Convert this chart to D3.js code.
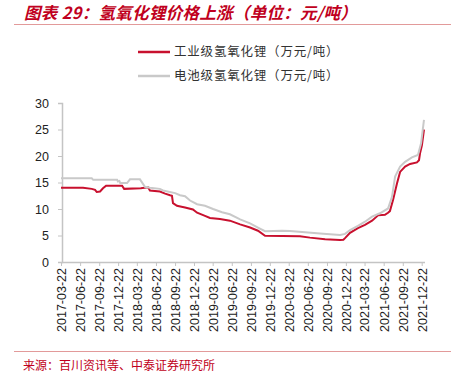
<!DOCTYPE html>
<html>
<head>
<meta charset="utf-8">
<script src="https://cdn.jsdelivr.net/npm/d3@7"></script>
<style>
  body { margin: 0; background: #fff; }
  text { font-family: "Liberation Sans", Arial, "Noto Sans CJK SC", sans-serif; }
  .cn { font-family: "Noto Sans CJK SC", sans-serif; }
</style>
</head>
<body>
<div id="chart"></div>
<script>
var svgWidth = 455;
var svgHeight = 377;

// Data (万元/吨)
var industrialDates = ["2017-03-22", "2017-07-06", "2017-08-17", "2017-09-02", "2017-09-10", "2017-09-26",
  "2017-10-10", "2017-10-25", "2018-01-10", "2018-01-20", "2018-04-10", "2018-05-15", "2018-05-24",
  "2018-07-11", "2018-08-05", "2018-08-29", "2018-09-07", "2018-09-12", "2018-10-01", "2018-11-09",
  "2018-12-17", "2019-01-06", "2019-02-13", "2019-03-09", "2019-04-26", "2019-06-13", "2019-08-01",
  "2019-09-18", "2019-10-26", "2019-11-29", "2020-05-15", "2020-07-02", "2020-09-13", "2020-11-24",
  "2020-12-10", "2020-12-18", "2021-01-11", "2021-02-18", "2021-03-24", "2021-04-27", "2021-05-26",
  "2021-06-28", "2021-07-13", "2021-07-22", "2021-08-06", "2021-08-25", "2021-09-09", "2021-10-03",
  "2021-10-27", "2021-11-29", "2021-12-09", "2021-12-14", "2021-12-23", "2022-01-02"];
var industrialValues = [14.0, 14.0, 13.8, 13.6, 13.2, 13.3,
  13.9, 14.4, 14.4, 13.8, 13.9, 14.1, 13.5,
  13.3, 12.9, 12.6, 12.5, 11.1, 10.6, 10.3,
  9.9, 9.3, 8.7, 8.3, 8.1, 7.8, 7.1,
  6.5, 5.9, 4.95, 4.85, 4.6, 4.3, 4.15,
  4.2, 4.5, 5.5, 6.4, 7.0, 7.8, 8.8,
  8.9, 9.3, 9.6, 11.7, 14.8, 17.0, 18.0,
  18.5, 18.8, 19.2, 20.5, 22.0, 25.0];

var batteryDates = ["2017-03-22", "2017-08-17", "2017-08-24", "2017-12-17", "2017-12-21", "2017-12-28",
  "2018-01-01", "2018-02-03", "2018-02-17", "2018-04-06", "2018-04-30", "2018-05-24", "2018-07-11",
  "2018-07-26", "2018-09-22", "2018-10-16", "2018-11-09", "2018-12-03", "2019-01-06", "2019-02-13",
  "2019-03-24", "2019-05-06", "2019-06-13", "2019-08-01", "2019-09-18", "2019-10-26", "2019-11-29",
  "2020-02-19", "2020-03-28", "2020-08-20", "2020-11-24", "2020-12-18", "2021-01-11", "2021-02-18",
  "2021-03-24", "2021-04-27", "2021-06-04", "2021-07-13", "2021-08-01", "2021-08-16", "2021-09-09",
  "2021-10-03", "2021-11-05", "2021-12-04", "2021-12-19", "2022-01-02"];
var batteryValues = [15.8, 15.8, 15.5, 15.5, 15.2, 15.3,
  14.9, 14.9, 15.6, 15.6, 14.2, 14.0, 13.8,
  13.5, 13.0, 12.6, 12.4, 11.6, 10.9, 10.6,
  10.0, 9.4, 9.0, 8.05, 7.3, 6.5, 5.8,
  5.9, 5.85, 5.4, 5.1, 5.3, 6.0, 6.8,
  7.6, 8.55, 9.2, 10.1, 12.3, 16.1, 18.0,
  18.9, 19.75, 20.2, 22.4, 26.8];

var tickDates = ["2017-03-22", "2017-06-22", "2017-09-22", "2017-12-22", "2018-03-22", "2018-06-22",
  "2018-09-22", "2018-12-22", "2019-03-22", "2019-06-22", "2019-09-22", "2019-12-22", "2020-03-22",
  "2020-06-22", "2020-09-22", "2020-12-22", "2021-03-22", "2021-06-22", "2021-09-22", "2021-12-22"];
var yTicks = [0, 5, 10, 15, 20, 25, 30];
var seriesNames = ["工业级氢氧化锂（万元/吨）", "电池级氢氧化锂（万元/吨）"];
var seriesColors = ["#c8102e", "#c9c9c9"];

var parseDate = d3.timeParse("%Y-%m-%d");

var svg = d3.select("#chart")
  .append("svg")
  .attr("width", svgWidth)
  .attr("height", svgHeight);

// Title and rules
svg.append("text")
  .attr("class", "cn")
  .attr("x", 24)
  .attr("y", 19)
  .style("font-size", "16.5px")
  .style("font-weight", "bold")
  .style("font-style", "italic")
  .style("letter-spacing", "0.3px")
  .style("fill", "#c00020")
  .text("图表 29：氢氧化锂价格上涨（单位：元/吨）");

svg.append("line")
  .attr("x1", 14).attr("x2", 451)
  .attr("y1", 24.5).attr("y2", 24.5)
  .attr("stroke", "#e29a9a").attr("stroke-width", 1);

svg.append("line")
  .attr("x1", 14).attr("x2", 451)
  .attr("y1", 351.5).attr("y2", 351.5)
  .attr("stroke", "#e29a9a").attr("stroke-width", 1);

svg.append("text")
  .attr("class", "cn")
  .attr("x", 23)
  .attr("y", 370)
  .style("font-size", "12px")
  .style("fill", "#c00020")
  .text("来源：百川资讯等、中泰证券研究所");

// Scales
var x = d3.scaleTime()
  .domain([parseDate("2017-03-22"), parseDate("2021-12-22")])
  .range([61, 421.7]);

var y = d3.scaleLinear()
  .domain([0, 30])
  .range([262, 103]);

// Axes
var yAxis = svg.append("g")
  .attr("transform", "translate(62,0)")
  .call(d3.axisLeft(y).tickValues(yTicks).tickSize(4).tickPadding(9));
yAxis.selectAll("text").style("font-size", "12.5px").style("fill", "#222");

var xAxis = svg.append("g")
  .attr("transform", "translate(0,262)")
  .call(d3.axisBottom(x).tickValues(tickDates.map(parseDate)).tickSize(4).tickFormat(d3.timeFormat("%Y-%m-%d")));
xAxis.selectAll("text")
  .style("font-size", "12.5px")
  .style("fill", "#222")
  .attr("text-anchor", "end")
  .attr("transform", "rotate(-90)")
  .attr("x", -6)
  .attr("y", 0)
  .attr("dy", "0.35em");

svg.selectAll(".domain").attr("stroke", "#c4c4c4").attr("stroke-width", 1.5);
svg.selectAll(".tick line").attr("stroke", "#c4c4c4");
xAxis.select(".domain").attr("d", "M62,0.5H425");

// Lines
var line = d3.line()
  .x(d => x(d.date))
  .y(d => y(d.value));

var industrial = industrialDates.map((d, i) => ({ date: parseDate(d), value: industrialValues[i] }));
var battery = batteryDates.map((d, i) => ({ date: parseDate(d), value: batteryValues[i] }));

svg.append("path")
  .datum(industrial)
  .attr("d", line)
  .attr("fill", "none")
  .attr("stroke", seriesColors[0])
  .attr("stroke-width", 2);

svg.append("path")
  .datum(battery)
  .attr("d", line)
  .attr("fill", "none")
  .attr("stroke", seriesColors[1])
  .attr("stroke-width", 2);

// Legend
var legend = svg.selectAll(".legend")
  .data(seriesNames)
  .enter()
  .append("g")
  .attr("transform", (d, i) => `translate(138, ${52 + i * 24})`);

legend.append("line")
  .attr("x1", 0).attr("x2", 32)
  .attr("stroke", (d, i) => seriesColors[i])
  .attr("stroke-width", 2.5);

legend.append("text")
  .attr("class", "cn")
  .attr("x", 36)
  .attr("dy", "0.35em")
  .style("font-size", "12.5px")
  .style("letter-spacing", "0.8px")
  .style("fill", "#333")
  .text(d => d);
</script>
</body>
</html>
